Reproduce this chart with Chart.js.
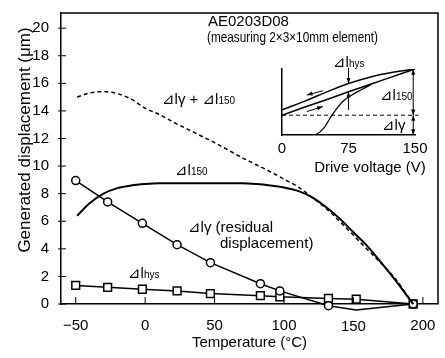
<!DOCTYPE html>
<html>
<head>
<meta charset="utf-8">
<script src="https://cdn.jsdelivr.net/npm/chart.js@4.4.1/dist/chart.umd.min.js"></script>
<style>
  body { margin: 0; background: #fff; }
  #wrap { position: relative; width: 445px; height: 358px; }
  #insetChart { position: absolute; left: 262px; top: 48px; }
</style>
</head>
<body>
<div id="wrap">
  <canvas id="mainChart" width="445" height="358"></canvas>
  <canvas id="insetChart" width="183" height="132"></canvas>
</div>
<script>
// measured points (temperature in °C, displacement in µm)
const temps = [-50, -27, -2, 23, 47, 83, 97, 132, 152, 193];
const residual = [8.95, 7.4, 5.85, 4.3, 3.0, 1.47, 0.95, -0.12, -0.43, 0];
const hysteresis = [1.35, 1.21, 1.07, 0.95, 0.76, 0.6, 0.52, 0.4, 0.35, 0];

// smooth curves
const curveTemps = [-49, -40, -30, -20, -10, 0, 10, 20, 30, 40, 50, 60, 70, 80, 90, 100, 110, 120, 130, 140, 150, 160, 170, 180, 193];
const disp150 = [6.4, 7.3, 8.0, 8.4, 8.6, 8.7, 8.75, 8.75, 8.75, 8.75, 8.75, 8.75, 8.75, 8.7, 8.6, 8.45, 8.2, 7.75, 7.05, 6.2, 5.2, 4.2, 3.0, 1.75, 0];
const dispTotal = [15.0, 15.3, 15.4, 15.25, 14.85, 14.2, 13.75, 13.2, 12.7, 12.2, 11.7, 11.15, 10.6, 10.1, 9.6, 9.05, 8.5, 7.75, 6.95, 6.0, 4.98, 3.95, 2.95, 1.85, 0];

const xTicks = [-50, 0, 50, 100, 150, 200];
const yTicks = [0, 2, 4, 6, 8, 10, 12, 14, 16, 18, 20];

// inset: displacement vs drive voltage
const branchVolts = [0, 25, 50, 75, 100, 125, 150];
const upperBranch = [3.8, 5.1, 6.5, 7.8, 8.8, 9.5, 10];
const lowerBranch = [3.0, 4.2, 5.35, 6.55, 7.7, 8.85, 10];
const virginVolts = [32, 40, 48, 54, 60, 68, 78, 90, 100];
const virginCurve = [0, 0.2, 1.2, 2.5, 3.7, 5.0, 6.0, 6.9, 7.6];
const residualLevel = 3;
const voltTicks = [0, 75, 150];

const FONT = '"Liberation Sans", "DejaVu Sans", "Noto Sans CJK JP", sans-serif';
Chart.defaults.font.family = FONT;
Chart.defaults.color = '#000';

function pts(xs, ys) { return xs.map((v, i) => ({x: v, y: ys[i]})); }

function richText(ctx, x, y, parts, maxWidth) {
  ctx.textBaseline = 'alphabetic';
  ctx.textAlign = 'left';
  let cx = x;
  parts.forEach(p => {
    ctx.font = p[1] + 'px ' + FONT;
    if (maxWidth && parts.length === 1) { ctx.fillText(p[0], cx, y, maxWidth); return; }
    ctx.fillText(p[0], cx, y);
    cx += ctx.measureText(p[0]).width;
  });
}

const mainNotes = [
  {x: 208, y: 26, parts: [['AE0203D08', 15]]},
  {x: 207, y: 42, parts: [['(measuring 2×3×10mm element)', 15]], maxWidth: 171},
  {x: 162, y: 104, parts: [['⊿lγ + ⊿l', 15], ['150', 10]]},
  {x: 175, y: 175, parts: [['⊿l', 15], ['150', 10]]},
  {x: 188, y: 232, parts: [['⊿lγ (residual', 15]]},
  {x: 220, y: 248, parts: [['displacement)', 15]]},
  {x: 128, y: 278, parts: [['⊿l', 15], ['hys', 10]]}
];

const mainDecor = {
  id: 'mainDecor',
  afterDraw(chart) {
    const {ctx, chartArea: a} = chart;
    const x = chart.scales.x, y = chart.scales.y;
    ctx.save();
    ctx.strokeStyle = '#000';
    ctx.lineWidth = 1.5;
    ctx.beginPath();
    ctx.moveTo(a.left, a.top); ctx.lineTo(a.right, a.top); ctx.lineTo(a.right, a.bottom);
    ctx.stroke();
    // tick marks
    ctx.lineWidth = 1;
    ctx.beginPath();
    x.ticks.forEach(t => {
      const px = x.getPixelForValue(t.value);
      ctx.moveTo(px, a.bottom); ctx.lineTo(px, a.bottom - 7);
    });
    y.ticks.forEach(t => {
      const py = y.getPixelForValue(t.value);
      ctx.moveTo(a.left - 3, py); ctx.lineTo(a.left + 5, py);
    });
    ctx.stroke();
    // the 150 label sits lower in the original
    ctx.fillStyle = '#000';
    ctx.font = '15px ' + FONT;
    ctx.textAlign = 'center';
    ctx.textBaseline = 'middle';
    ctx.fillText('150', x.getPixelForValue(150), 327);
    // y axis title
    ctx.save();
    ctx.translate(25, 140);
    ctx.rotate(-Math.PI / 2);
    ctx.font = '17px ' + FONT;
    ctx.fillText('Generated displacement (μm)', 0, 0);
    ctx.restore();
    mainNotes.forEach(n => richText(ctx, n.x, n.y, n.parts, n.maxWidth));
    ctx.restore();
  }
};

new Chart(document.getElementById('mainChart'), {
  type: 'line',
  data: {
    datasets: [{
      label: 'dl150',
      data: pts(curveTemps, disp150),
      borderColor: '#000', borderWidth: 2,
      pointRadius: 0, cubicInterpolationMode: 'monotone', clip: false
    }, {
      label: 'dlg + dl150',
      data: pts(curveTemps, dispTotal),
      borderColor: '#000', borderWidth: 1.5, borderDash: [4, 3],
      pointRadius: 0, cubicInterpolationMode: 'monotone', clip: false
    }, {
      label: 'dlg',
      data: pts(temps, residual),
      borderColor: '#000', borderWidth: 1.5,
      pointStyle: 'circle', pointRadius: 4, pointBorderWidth: 1.5,
      pointBackgroundColor: '#fff', pointBorderColor: '#000', clip: false
    }, {
      label: 'dlhys',
      data: pts(temps, hysteresis),
      borderColor: '#000', borderWidth: 1.5,
      pointStyle: 'rect', pointRadius: 5.5, pointBorderWidth: 1.5,
      pointBackgroundColor: '#fff', pointBorderColor: '#000', clip: false
    }]
  },
  options: {
    responsive: false,
    animation: false,
    devicePixelRatio: 1,
    layout: {padding: {top: 7, right: 2, left: 0, bottom: 0}},
    plugins: {legend: {display: false}, tooltip: {enabled: false}},
    scales: {
      x: {
        type: 'linear', min: -60.6, max: 210.9,
        afterBuildTicks: s => { s.ticks = xTicks.map(v => ({value: v})); },
        afterFit: s => { s.height = 54; },
        grid: {display: false},
        border: {display: true, color: '#000', width: 1.5},
        ticks: {
          font: {size: 15}, padding: 5, maxRotation: 0,
          callback: v => v === 150 ? '' : String(v).replace('-', '\u2212')
        },
        title: {display: true, text: 'Temperature (°C)', font: {size: 15}, padding: {top: 0, bottom: 6}}
      },
      y: {
        min: 0, max: 21.1,
        afterBuildTicks: s => { s.ticks = yTicks.map(v => ({value: v})); },
        afterFit: s => { s.width = 61; },
        grid: {display: false},
        border: {display: true, color: '#000', width: 1.5},
        ticks: {font: {size: 15}, padding: 4}
      }
    }
  },
  plugins: [mainDecor]
});

// ---- inset ----
function arrowHead(ctx, x0, y0, x1, y1, size) {
  const ang = Math.atan2(y1 - y0, x1 - x0);
  ctx.beginPath();
  ctx.moveTo(x1, y1);
  ctx.lineTo(x1 - size * Math.cos(ang - 0.35), y1 - size * Math.sin(ang - 0.35));
  ctx.lineTo(x1 - size * Math.cos(ang + 0.35), y1 - size * Math.sin(ang + 0.35));
  ctx.closePath();
  ctx.fill();
}
function arrow(ctx, x0, y0, x1, y1, both) {
  ctx.beginPath();
  ctx.moveTo(x0, y0); ctx.lineTo(x1, y1);
  ctx.stroke();
  arrowHead(ctx, x0, y0, x1, y1, 6);
  if (both) arrowHead(ctx, x1, y1, x0, y0, 6);
}

const insetNotes = [
  {x: 71, y: 19, parts: [['⊿l', 15], ['hys', 10]]},
  {x: 118, y: 52, parts: [['⊿l', 15], ['150', 10]]},
  {x: 120, y: 82, parts: [['⊿lγ', 15]]}
];

const insetDecor = {
  id: 'insetDecor',
  afterDraw(chart) {
    const {ctx} = chart;
    const x = chart.scales.x, y = chart.scales.y;
    ctx.save();
    ctx.strokeStyle = '#000';
    ctx.fillStyle = '#000';
    ctx.lineWidth = 1;
    // hysteresis width marker at 75 V
    const hx = x.getPixelForValue(75);
    arrow(ctx, hx, y.getPixelForValue(10.2), hx, y.getPixelForValue(upperBranch[3]), false);
    arrow(ctx, hx, y.getPixelForValue(3.8), hx, y.getPixelForValue(lowerBranch[3]), false);
    // displacement arrows at 150 V
    const rx = x.getPixelForValue(148);
    arrow(ctx, rx, y.getPixelForValue(residualLevel), rx, y.getPixelForValue(10), true);
    arrow(ctx, rx, y.getPixelForValue(0), rx, y.getPixelForValue(residualLevel), true);
    // direction arrows
    arrow(ctx, x.getPixelForValue(46), y.getPixelForValue(6.7), x.getPixelForValue(28), y.getPixelForValue(6.05), false);
    arrow(ctx, x.getPixelForValue(28), y.getPixelForValue(3.55), x.getPixelForValue(46), y.getPixelForValue(4.3), false);
    // axis title
    ctx.font = '15px ' + FONT;
    ctx.textAlign = 'center';
    ctx.textBaseline = 'middle';
    ctx.fillText('Drive voltage (V)', 108, 120);
    insetNotes.forEach(n => richText(ctx, n.x, n.y, n.parts));
    ctx.restore();
  }
};

new Chart(document.getElementById('insetChart'), {
  type: 'line',
  data: {
    datasets: [{
      data: pts(branchVolts, upperBranch),
      borderColor: '#000', borderWidth: 1.5, pointRadius: 0, tension: 0.4
    }, {
      data: pts(branchVolts, lowerBranch),
      borderColor: '#000', borderWidth: 1.5, pointRadius: 0, tension: 0.4
    }, {
      data: pts(virginVolts, virginCurve),
      borderColor: '#000', borderWidth: 1.2, pointRadius: 0, cubicInterpolationMode: 'monotone'
    }, {
      data: [{x: 0, y: residualLevel}, {x: 154, y: residualLevel}],
      borderColor: '#000', borderWidth: 1, borderDash: [4, 3], pointRadius: 0, clip: false
    }]
  },
  options: {
    responsive: false,
    animation: false,
    devicePixelRatio: 1,
    layout: {padding: {top: 21, right: 30, left: 20, bottom: 0}},
    plugins: {legend: {display: false}, tooltip: {enabled: false}},
    scales: {
      x: {
        type: 'linear', min: 0, max: 150,
        afterBuildTicks: s => { s.ticks = voltTicks.map(v => ({value: v})); },
        afterFit: s => { s.height = 45; },
        grid: {display: false, drawTicks: false},
        border: {display: true, color: '#000', width: 1.5},
        ticks: {font: {size: 15}, padding: 5, maxRotation: 0}
      },
      y: {
        min: 0, max: 10,
        afterFit: s => { s.width = 0; },
        grid: {display: false, drawTicks: false},
        border: {display: true, color: '#000', width: 1.5},
        ticks: {display: false}
      }
    }
  },
  plugins: [insetDecor]
});
</script>
</body>
</html>
